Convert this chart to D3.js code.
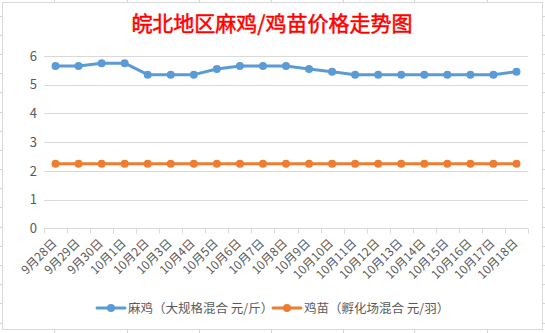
<!DOCTYPE html>
<html><head><meta charset="utf-8">
<script src="https://cdn.jsdelivr.net/npm/d3@7/dist/d3.min.js"></script>
<style>
html,body{margin:0;padding:0;background:#fff;}
svg{display:block;}
text{font-family:"Noto Sans CJK SC","Noto Sans",sans-serif;}
</style></head>
<body>
<script>
const categories = ["9月28日","9月29日","9月30日","10月1日","10月2日","10月3日","10月4日","10月5日","10月6日","10月7日","10月8日","10月9日","10月10日","10月11日","10月12日","10月13日","10月14日","10月15日","10月16日","10月17日","10月18日"];
const majiValues = [5.65,5.65,5.75,5.75,5.35,5.35,5.35,5.55,5.65,5.65,5.65,5.55,5.45,5.35,5.35,5.35,5.35,5.35,5.35,5.35,5.45];
const jimiaoValues = [2.25,2.25,2.25,2.25,2.25,2.25,2.25,2.25,2.25,2.25,2.25,2.25,2.25,2.25,2.25,2.25,2.25,2.25,2.25,2.25,2.25];
const yTicks = [0,1,2,3,4,5,6];
const seriesNames = ["麻鸡（大规格混合 元/斤）","鸡苗（孵化场混合 元/羽）"];
const titleText = "皖北地区麻鸡/鸡苗价格走势图";

const W = 545, H = 333;
const colors = ["#5B9BD5","#ED7D31"];
const svg = d3.select("body").append("svg").attr("width",W).attr("height",H);

// spreadsheet gridlines behind the chart object
const sheet = svg.append("g").attr("stroke","#d4d4d4").attr("stroke-width",1);
for (let y = 15.5; y < H; y += 19.2) {
  sheet.append("line").attr("x1",0).attr("x2",W).attr("y1",Math.round(y)+0.5).attr("y2",Math.round(y)+0.5);
}
[54,127,199,271,343,414,487].forEach(x=>{
  sheet.append("line").attr("x1",x+0.5).attr("x2",x+0.5).attr("y1",0).attr("y2",H);
});

// chart area
svg.append("rect").attr("x",2.5).attr("y",2.5).attr("width",540).attr("height",327)
  .attr("fill","#fff").attr("stroke","#d9d9d9").attr("stroke-width",1);

svg.append("text").attr("x",272).attr("y",31).attr("text-anchor","middle")
  .attr("fill","#FF0000").attr("stroke","#FF0000").attr("stroke-width",0.5)
  .attr("font-size",21).attr("font-weight","normal").text(titleText);

const x = d3.scaleBand().domain(categories).range([44,528]);
const y = d3.scaleLinear().domain([0,6]).range([228.3,56]);

// gridlines
const grid = svg.append("g");
grid.selectAll("line").data(yTicks.filter(d=>d>0)).join("line")
  .attr("x1",44).attr("x2",528)
  .attr("y1",d=>Math.round(y(d))+0.5).attr("y2",d=>Math.round(y(d))+0.5)
  .attr("stroke","#d9d9d9").attr("stroke-width",1);

// y axis labels
const yAxis = d3.axisLeft(y).tickValues(yTicks).tickSize(0).tickPadding(0).tickFormat(d3.format("d"));
const gy = svg.append("g").attr("transform","translate(37,0)").call(yAxis);
gy.select(".domain").remove();
gy.selectAll("text").attr("font-size",13).attr("fill","#595959").attr("font-family","'Noto Sans',sans-serif");

// x axis
const xAxis = d3.axisBottom(x).tickSize(0).tickFormat("");
const gx = svg.append("g").attr("transform",`translate(0,${Math.round(y(0))+0.5})`).call(xAxis);
gx.select(".domain").attr("stroke","#d9d9d9").attr("d","M44,0H528");
const bounds = categories.map(c=>x(c)).concat([x(categories[categories.length-1])+x.bandwidth()]);
gx.selectAll(".bt").data(bounds).join("line").attr("class","bt")
  .attr("x1",d=>Math.round(d)+0.5).attr("x2",d=>Math.round(d)+0.5).attr("y1",0).attr("y2",5)
  .attr("stroke","#d9d9d9");

svg.append("g").selectAll("text").data(categories).join("text")
  .attr("transform",d=>`translate(${x(d)+x.bandwidth()/2+2},244) rotate(-45)`)
  .attr("text-anchor","end").attr("font-size",12).attr("fill","#595959").text(d=>d);

// series
const line = d3.line().x((d,i)=>x(categories[i])+x.bandwidth()/2).y(d=>y(d));
[majiValues, jimiaoValues].forEach((vals,k)=>{
  const g = svg.append("g");
  g.append("path").datum(vals).attr("d",line).attr("fill","none")
    .attr("stroke",colors[k]).attr("stroke-width",3).attr("stroke-linejoin","round").attr("stroke-linecap","round");
  g.selectAll("circle").data(vals).join("circle")
    .attr("cx",(d,i)=>x(categories[i])+x.bandwidth()/2).attr("cy",d=>y(d)).attr("r",4)
    .attr("fill",colors[k]);
});

// legend
const legendX = [97,273];
const lg = svg.append("g");
seriesNames.forEach((name,k)=>{
  const lx = legendX[k], ly = 308;
  lg.append("line").attr("x1",lx).attr("x2",lx+28).attr("y1",ly).attr("y2",ly)
    .attr("stroke",colors[k]).attr("stroke-width",3).attr("stroke-linecap","round");
  lg.append("circle").attr("cx",lx+14).attr("cy",ly).attr("r",4).attr("fill",colors[k]);
  lg.append("text").attr("x",lx+31).attr("y",ly+4.5).attr("font-size",12.5).attr("fill","#595959").text(name);
});
</script>
</body></html>
